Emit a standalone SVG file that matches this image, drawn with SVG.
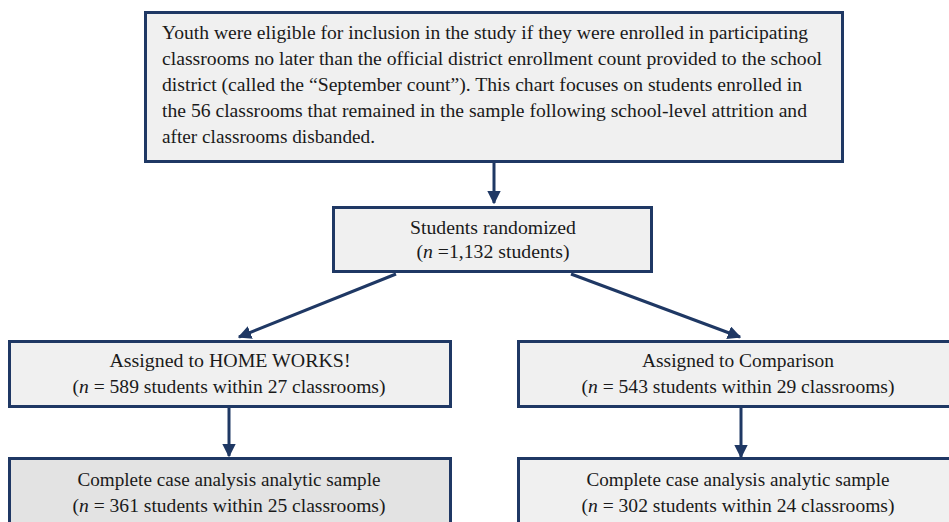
<svg xmlns="http://www.w3.org/2000/svg" width="949" height="522" viewBox="0 0 949 522">
<style>
.box{fill:#f0f0f0;stroke:#1f3864;stroke-width:3}
.dark{fill:#e3e3e3}
.c{stroke:#1f3864;stroke-width:3;fill:none}
text{font-size:18px;fill:#1a1a1a}
.m{text-anchor:middle}
</style>
<defs>
<marker id="ah" viewBox="0 0 10 10" refX="9" refY="5" markerWidth="4.5" markerHeight="4.5" markerUnits="strokeWidth" orient="auto">
<path d="M0,0 L10,5 L0,10 z" fill="#1f3864"/>
</marker>
</defs>
<rect width="949" height="522" fill="#ffffff"/>
<g id="connectors">
<line class="c" x1="494" y1="163" x2="494" y2="203" marker-end="url(#ah)"/>
<line class="c" x1="396" y1="274" x2="239" y2="337" marker-end="url(#ah)"/>
<line class="c" x1="571" y1="274" x2="740" y2="337" marker-end="url(#ah)"/>
<line class="c" x1="229" y1="408" x2="229" y2="456" marker-end="url(#ah)"/>
<line class="c" x1="741" y1="408" x2="741" y2="457" marker-end="url(#ah)"/>
</g>
<g font-family="Liberation Serif, Tinos, Noto Serif, DejaVu Serif, FreeSerif, Times New Roman, Times, serif">
<g id="eligibility">
<rect class="box" x="145.5" y="12.5" width="697" height="149"/>
<text x="162" y="39" textLength="646" lengthAdjust="spacingAndGlyphs">Youth were eligible for inclusion in the study if they were enrolled in participating</text>
<text x="162" y="65" textLength="660" lengthAdjust="spacingAndGlyphs">classrooms no later than the official district enrollment count provided to the school</text>
<text x="162" y="91" textLength="640" lengthAdjust="spacingAndGlyphs">district (called the “September count”). This chart focuses on students enrolled in</text>
<text x="162" y="117" textLength="645" lengthAdjust="spacingAndGlyphs">the 56 classrooms that remained in the sample following school-level attrition and</text>
<text x="162" y="143" textLength="213" lengthAdjust="spacingAndGlyphs">after classrooms disbanded.</text>
</g>
<g id="randomized">
<rect class="box" x="333.5" y="207.5" width="318" height="64"/>
<text class="m" x="493" y="234" textLength="166" lengthAdjust="spacingAndGlyphs">Students randomized</text>
<text class="m" x="493" y="258" textLength="153" lengthAdjust="spacingAndGlyphs">(<tspan font-style="italic">n</tspan> =1,132 students)</text>
</g>
<g id="homeworks">
<rect class="box" x="9.5" y="341.5" width="441" height="65"/>
<text class="m" x="230" y="367" textLength="241" lengthAdjust="spacingAndGlyphs">Assigned to HOME WORKS!</text>
<text class="m" x="229" y="393" textLength="313" lengthAdjust="spacingAndGlyphs">(<tspan font-style="italic">n</tspan> = 589 students within 27 classrooms)</text>
</g>
<g id="comparison">
<rect class="box" x="518.5" y="341.5" width="442" height="65"/>
<text class="m" x="738" y="367" textLength="192" lengthAdjust="spacingAndGlyphs">Assigned to Comparison</text>
<text class="m" x="738" y="393" textLength="313" lengthAdjust="spacingAndGlyphs">(<tspan font-style="italic">n</tspan> = 543 students within 29 classrooms)</text>
</g>
<g id="homeworks-sample">
<rect class="box dark" x="9.5" y="458.5" width="441" height="72"/>
<text class="m" x="229" y="486" textLength="303" lengthAdjust="spacingAndGlyphs">Complete case analysis analytic sample</text>
<text class="m" x="229" y="512" textLength="313" lengthAdjust="spacingAndGlyphs">(<tspan font-style="italic">n</tspan> = 361 students within 25 classrooms)</text>
</g>
<g id="comparison-sample">
<rect class="box" x="518.5" y="458.5" width="442" height="72"/>
<text class="m" x="738" y="486" textLength="303" lengthAdjust="spacingAndGlyphs">Complete case analysis analytic sample</text>
<text class="m" x="738" y="512" textLength="313" lengthAdjust="spacingAndGlyphs">(<tspan font-style="italic">n</tspan> = 302 students within 24 classrooms)</text>
</g>
</g>
</svg>
